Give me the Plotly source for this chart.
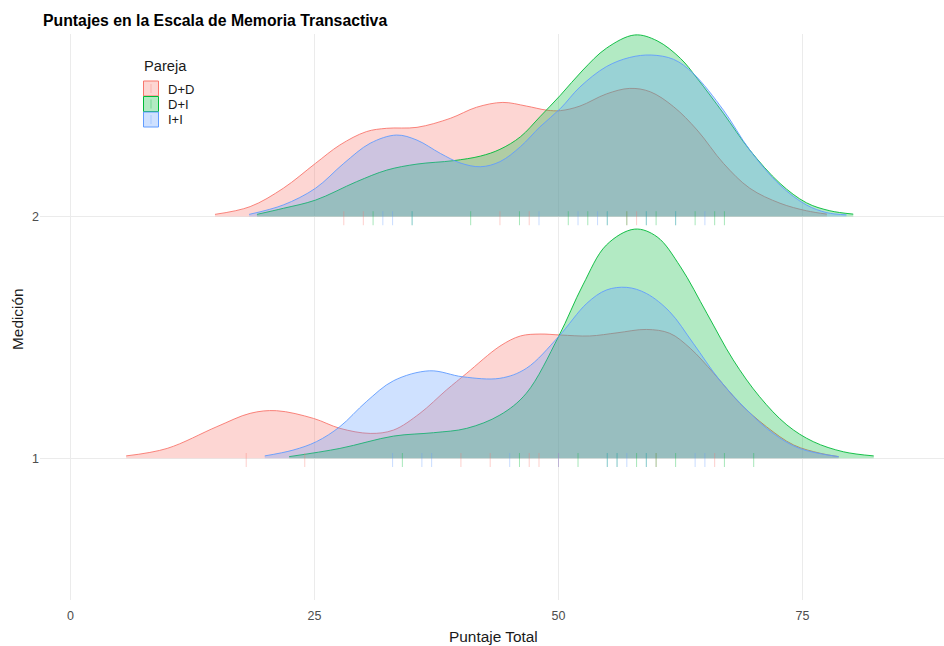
import plotly.graph_objects as go

groups = ["D+D", "D+I", "I+I"]
line_colors = {"D+D": "#F8766D", "D+I": "#00BA38", "I+I": "#619CFF"}
fill_colors = {"D+D": "rgba(248,118,109,0.3)", "D+I": "rgba(0,186,56,0.3)", "I+I": "rgba(97,156,255,0.3)"}
rug_colors = {"D+D": "rgba(248,118,109,0.35)", "D+I": "rgba(0,186,56,0.35)", "I+I": "rgba(97,156,255,0.35)"}

# Medición 2 density curves (x = Puntaje Total, h = ridge height)
dd2_x = [14.8, 18.4, 21.8, 25.1, 27.6, 30.3, 32.4, 35.5, 38.9, 41.6, 44.3, 46.7, 48.8, 50.2, 52.2, 54.9, 57.3, 59.4, 61.8, 64.2, 66.9, 69.6, 72.7, 75.4, 77.5]
dd2_h = [0.009, 0.041, 0.117, 0.220, 0.296, 0.351, 0.365, 0.369, 0.406, 0.452, 0.472, 0.457, 0.440, 0.438, 0.457, 0.507, 0.530, 0.516, 0.454, 0.358, 0.220, 0.117, 0.055, 0.024, 0.010]
di2_x = [19.1, 21.8, 25.1, 29.3, 32.4, 35.5, 39.2, 42.0, 44.0, 46.1, 48.1, 50.2, 52.5, 54.9, 57.8, 60.1, 62.5, 64.2, 66.9, 69.6, 72.7, 75.4, 77.8, 80.2]
di2_h = [0.009, 0.034, 0.068, 0.144, 0.192, 0.217, 0.231, 0.250, 0.278, 0.330, 0.413, 0.502, 0.606, 0.696, 0.751, 0.727, 0.654, 0.572, 0.427, 0.275, 0.137, 0.057, 0.024, 0.010]
ii2_x = [18.3, 21.8, 25.1, 28.0, 30.7, 33.4, 35.5, 37.9, 39.9, 42.0, 44.0, 46.1, 48.1, 50.2, 52.2, 54.9, 57.3, 59.5, 61.8, 63.8, 66.9, 69.6, 72.7, 75.4, 77.5, 79.5]
ii2_h = [0.009, 0.048, 0.117, 0.220, 0.303, 0.337, 0.316, 0.261, 0.222, 0.206, 0.227, 0.289, 0.371, 0.447, 0.536, 0.620, 0.658, 0.668, 0.650, 0.592, 0.440, 0.275, 0.130, 0.048, 0.016, 0.007]

# Medición 1 density curves
dd1_x = [5.7, 9.9, 15.0, 18.4, 21.1, 24.9, 27.6, 30.7, 33.1, 35.8, 38.5, 40.6, 44.0, 46.1, 48.1, 50.2, 53.2, 56.0, 59.0, 61.4, 63.5, 65.9, 68.6, 71.3, 74.1, 76.8, 78.7]
dd1_h = [0.010, 0.041, 0.131, 0.186, 0.197, 0.165, 0.124, 0.103, 0.117, 0.186, 0.282, 0.352, 0.464, 0.506, 0.514, 0.510, 0.506, 0.519, 0.533, 0.517, 0.455, 0.352, 0.227, 0.131, 0.055, 0.021, 0.007]
di1_x = [22.4, 27.6, 33.1, 37.2, 40.6, 44.0, 46.7, 50.0, 52.5, 54.9, 57.8, 60.1, 62.5, 65.2, 67.9, 70.6, 73.4, 76.1, 79.2, 82.3]
di1_h = [0.007, 0.041, 0.092, 0.106, 0.124, 0.179, 0.269, 0.503, 0.717, 0.882, 0.948, 0.916, 0.792, 0.600, 0.407, 0.255, 0.138, 0.069, 0.027, 0.010]
ii1_x = [19.9, 22.8, 25.2, 27.6, 30.3, 33.1, 36.8, 40.2, 44.0, 46.7, 50.0, 52.9, 54.9, 57.0, 59.0, 61.4, 63.8, 66.5, 69.3, 72.0, 74.7, 78.7]
ii1_h = [0.010, 0.034, 0.069, 0.131, 0.234, 0.321, 0.362, 0.337, 0.331, 0.372, 0.503, 0.641, 0.696, 0.707, 0.682, 0.606, 0.476, 0.324, 0.200, 0.103, 0.041, 0.007]

# Observed scores (rug marks)
rug2_dd = [28, 30, 44, 47, 57, 58]
rug2_di = [31, 35, 41, 46, 51, 53, 55, 57, 59, 60, 62, 64, 66, 67]
rug2_ii = [32, 33, 35, 48, 52, 54, 55, 59, 62, 65]
rug1_dd = [18, 24, 40, 43, 47, 48, 50, 60, 66]
rug1_di = [34, 46, 52, 55, 56, 58, 59, 60, 62, 67, 70]
rug1_ii = [33, 36, 37, 45, 50, 55, 56, 57, 59, 64, 65]

x_ticks = [0, 25, 50, 75]
y_ticks = [1, 2]

ridges = {
    2: {"D+D": (dd2_x, dd2_h), "D+I": (di2_x, di2_h), "I+I": (ii2_x, ii2_h)},
    1: {"D+D": (dd1_x, dd1_h), "D+I": (di1_x, di1_h), "I+I": (ii1_x, ii1_h)},
}
rugs = {
    2: {"D+D": rug2_dd, "D+I": rug2_di, "I+I": rug2_ii},
    1: {"D+D": rug1_dd, "D+I": rug1_di, "I+I": rug1_ii},
}

fig = go.Figure()
for lvl in [2, 1]:
    for g in groups:
        xs, hs = ridges[lvl][g]
        fig.add_trace(go.Scatter(x=[xs[0], xs[-1]], y=[lvl, lvl], mode="lines",
                                 line=dict(width=0, color="rgba(0,0,0,0)"),
                                 showlegend=False, hoverinfo="skip"))
        fig.add_trace(go.Scatter(x=xs, y=[lvl + h for h in hs], mode="lines",
                                 line=dict(color=line_colors[g], width=0.9, shape="spline", smoothing=1),
                                 fill="tonexty", fillcolor=fill_colors[g],
                                 name=g, showlegend=False))
    for g in groups:
        vals = rugs[lvl][g]
        fig.add_trace(go.Scatter(x=vals, y=[lvl - 0.007] * len(vals), mode="markers",
                                 marker=dict(symbol="line-ns", size=10,
                                             line=dict(width=1, color=rug_colors[g])),
                                 showlegend=False, hoverinfo="skip"))

# plot area in pixels
L, R, T, B = 40, 944, 34, 600
W, H = 944, 646
def px(xp):
    return (xp - L) / (R - L)
def py(yp):
    return (B - yp) / (B - T)

FONT = "Liberation Sans, Arial"
shapes = []
annotations = []
key_tops = [81, 96.5, 112]
for g, top in zip(groups, key_tops):
    shapes.append(dict(type="rect", xref="paper", yref="paper",
                       x0=px(143.5), x1=px(158.5), y0=py(top + 15), y1=py(top),
                       fillcolor=fill_colors[g], line=dict(color=line_colors[g], width=1)))
    shapes.append(dict(type="line", xref="paper", yref="paper",
                       x0=px(151), x1=px(151), y0=py(top + 12), y1=py(top + 3),
                       line=dict(color=rug_colors[g], width=1)))
    annotations.append(dict(text=g, xref="paper", yref="paper", x=px(165.5), y=py(top + 8),
                            xanchor="left", yanchor="middle", showarrow=False,
                            font=dict(size=13, color="#1a1a1a", family=FONT)))
annotations.append(dict(text="Pareja", xref="paper", yref="paper", x=px(142), y=py(66.5),
                        xanchor="left", yanchor="middle", showarrow=False,
                        font=dict(size=14.7, color="#1a1a1a", family=FONT)))
annotations.append(dict(text="Medición", xref="paper", yref="paper", x=px(17), y=py(319),
                        xanchor="center", yanchor="middle", textangle=-90, showarrow=False,
                        font=dict(size=15.4, color="#1a1a1a", family=FONT)))
annotations.append(dict(text="Puntaje Total", xref="paper", yref="paper", x=px(493), y=py(636),
                        xanchor="center", yanchor="middle", showarrow=False,
                        font=dict(size=15.4, color="#1a1a1a", family=FONT)))

fig.update_layout(
    width=W, height=H,
    margin=dict(l=L, r=W - R, t=T, b=H - B),
    paper_bgcolor="white", plot_bgcolor="white",
    title=dict(text="<b>Puntajes en la Escala de Memoria Transactiva</b>",
               x=43 / W, xanchor="left", xref="container",
               y=1 - 20 / H, yanchor="middle", yref="container",
               font=dict(size=15.8, color="black", family=FONT)),
    xaxis=dict(range=[-3.13, 89.5], tickvals=x_ticks, ticktext=[str(v) for v in x_ticks],
               showgrid=True, gridcolor="#EBEBEB", gridwidth=1, zeroline=False,
               showline=False, ticks="outside", ticklen=4, tickcolor="rgba(0,0,0,0)",
               tickfont=dict(size=12.5, color="#4D4D4D", family=FONT)),
    yaxis=dict(range=[0.414, 2.755], tickvals=y_ticks, ticktext=[str(v) for v in y_ticks],
               showgrid=True, gridcolor="#EBEBEB", gridwidth=1, zeroline=False,
               showline=False, ticks="",
               tickfont=dict(size=12.5, color="#4D4D4D", family=FONT)),
    shapes=shapes, annotations=annotations,
    showlegend=False,
)

fig.write_html("out.html", config={"displayModeBar": False},
               post_script="document.body.style.margin='0';document.body.style.padding='0';document.body.style.overflow='hidden';")
